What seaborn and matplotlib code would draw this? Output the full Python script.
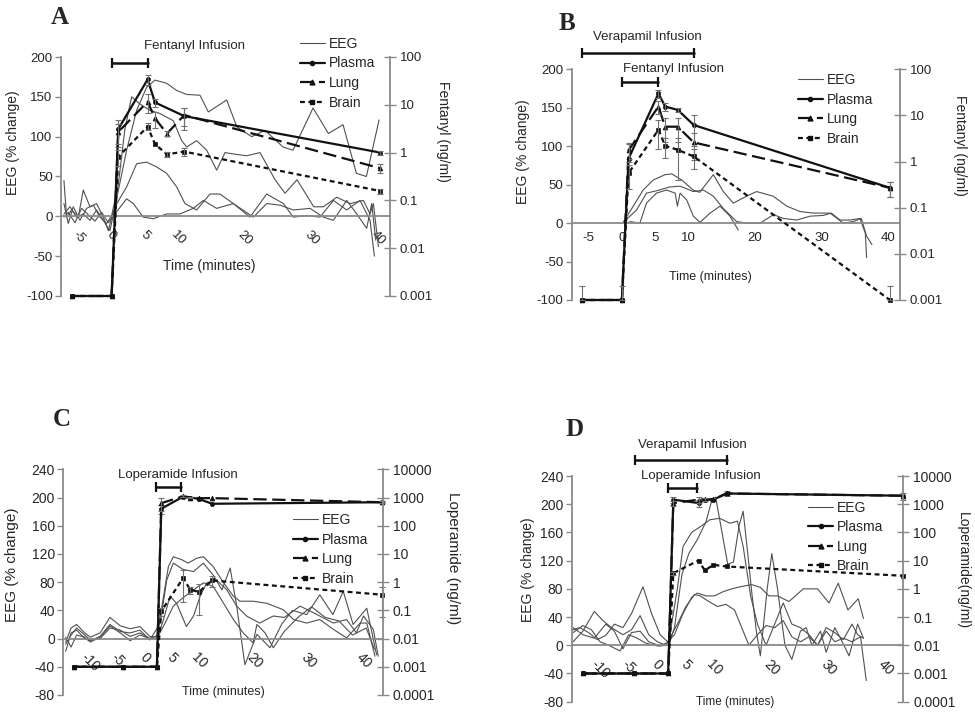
import numpy as np
import pandas as pd
import matplotlib
matplotlib.use("Agg")
import matplotlib.pyplot as plt
import matplotlib.transforms as mtransforms
from matplotlib.lines import Line2D
from matplotlib.ticker import FixedLocator, MultipleLocator, FuncFormatter
import seaborn as sns

# ---------------- data ----------------
# tissue / plasma concentrations (ng/ml) at sampling times (min)
a_time = [-6, 0, 1, 5.4, 6.5, 8.3, 10.9, 40.3]
a_plasma = [0.001, 0.001, 3.1, 34, 11.2, np.nan, 5.8, 1.0]
a_lung = [0.001, 0.001, 2.7, 11.6, 5.2, 2.5, 6.1, 0.47]
a_brain = [0.001, 0.001, 0.82, 3.5, 1.5, 0.92, 1.05, 0.157]
a_plasma_err = [0, 0, 1.8, 8, 2, 0, 2.9, 0.1]
a_lung_err = [0, 0, 1.2, 5, 2, 0.3, 2.5, 0.1]
a_brain_err = [0, 0, 0.3, 0.6, 0, 0.1, 0.2, 0.02]

b_time = [-6, 0, 1, 5.5, 6.5, 8.4, 10.8, 40.3]
b_plasma = [0.001, 0.001, 1.16, 30, 15.6, 13.2, 6.2, 0.27]
b_lung = [0.001, 0.001, 1.76, 15.6, 5.7, 5.7, 2.6, 0.27]
b_brain = [0.001, 0.001, 0.56, 4.9, 2.2, 1.8, 1.29, 0.001]
b_plasma_err = [0, 0, 1.2, 6, 3, 1.5, 4, 0.1]
b_lung_err = [0, 0, 0.8, 5, 3, 3, 1.5, 0.1]
b_brain_err = [0.001, 0.001, 0.3, 3, 1, 1.4, 0.6, 0.001]

c_time = [-13, -4, 2.2, 3.0, 7.0, 8.3, 9.9, 12.3, 43.3]
c_plasma = [0.001, 0.001, 0.001, 400, 1075, 1000, 890, 600, 680]
c_lung = [0.001, 0.001, 0.001, 630, 1110, 1000, 950, 950, 680]
c_brain = [0.001, 0.001, 0.001, 0.093, 1.4, 0.54, 0.45, 1.15, 0.36]
c_plasma_err = [0, 0, 0, 150, 100, 0, 0, 0, 60]
c_lung_err = [0, 0, 0, 300, 100, 50, 0, 0, 60]
c_brain_err = [0, 0, 0, 0.03, 1.2, 0.15, 0.38, 0.5, 0.3]

d_time = [-12.9, -4.1, 1.9, 2.8, 7.2, 8.3, 9.8, 12.1, 43.0]
d_plasma = [0.001, 0.001, 0.001, 1450, 1100, 1450, 1450, 2400, 2000]
d_lung = [0.001, 0.001, 0.001, 1100, 1450, 1500, 1500, 2400, 2000]
d_brain = [0.001, 0.001, 0.001, 3.6, 10.1, 4.5, 7.1, 6.2, 2.9]
d_plasma_err = [0, 0, 0, 300, 300, 0, 200, 500, 600]
d_lung_err = [0, 0, 0, 200, 300, 200, 0, 0, 0]
d_brain_err = [0, 0, 0, 0.5, 0, 0, 0, 0, 0]

# EEG traces (% change), (time, value) per animal
eeg_a1 = [(-7.15, 45), (-6.75, -1), (-6, 8), (-5, -1), (-4.25, 33), (-3.25, 12), (-2.25, 16), (-1.25, -1),
          (-0.5, -18), (0.15, 3), (0.5, 12), (2.25, 83), (3.75, 133), (5.25, 162), (6.5, 171), (8.25, 167),
          (9.75, 158), (11.25, 153), (13.25, 152), (14.5, 131), (17.25, 146), (18.8, 112), (21, 100),
          (23, 108), (25.7, 87), (27.2, 83), (30.2, 136), (32.5, 104), (34.7, 115), (36.7, 54), (38.2, 50),
          (40.1, 121)]
eeg_a2 = [(-7.15, 16), (-6.5, -9), (-5.75, 12), (-4.75, -5), (-3.75, 10), (-2.75, 14), (-1.75, -1), (-0.75, -9),
          (0, 1), (1, 40), (2, 110), (3, 150), (4.25, 141), (5.75, 133), (7.25, 129), (9.25, 120), (10.5, 95),
          (11.25, 87), (12.75, 95), (14.25, 83), (15.75, 58), (17, 80), (18.5, 78), (20.25, 76), (22.25, 80),
          (24.5, 46), (26, 29), (27.8, 46), (30.3, 12), (31.75, 12), (33.75, 24), (35.75, 16), (37.75, 20),
          (38.75, 3), (39.25, 16), (40, -38)]
eeg_a3 = [(-7.15, 3), (-6.25, 12), (-5.25, -1), (-4.25, 3), (-3.25, -5), (-2.25, 8), (-1.25, -5), (-0.25, -18),
          (0.5, 12), (2.25, 37), (3.75, 66), (5.25, 68), (6.75, 62), (8.25, 54), (9.75, 37), (11, 16),
          (12.75, 8), (14.75, 28), (16.25, 28), (18.25, 16), (20.75, -1), (23.25, 28), (25.75, 16),
          (27.25, -1), (29.25, 1), (31.25, -1), (33.25, 20), (35.25, 8), (37.25, 20), (38.75, -5), (39.4, -50)]
eeg_a4 = [(-7.15, -1), (-6.5, 5), (-5.5, -8), (-4.5, 10), (-3.5, 2), (-2.5, -6), (-1.5, 5), (-0.5, -8),
          (0.5, 3), (2.25, 22), (3.25, 16), (4.75, -1), (6.25, -3), (8.25, 3), (10.25, 3), (12.25, 10),
          (13.75, 20), (15.75, 10), (18.25, 16), (21.25, -1), (23.25, 16), (25.25, 14), (27.25, 8),
          (29.75, 10), (31.75, -1), (33.25, -5), (35.25, 20), (36.75, 3), (38.25, -15), (39, 16), (39.6, -30)]

eeg_b1 = [(0.2, 1), (1.7, 22), (3.2, 43), (4.7, 56), (6.5, 63), (7.5, 64), (9, 56), (10.7, 43), (11.7, 40),
          (13.75, 63), (15.25, 41), (16.75, 26), (18.75, 35), (20.25, 41), (22.75, 35), (24.8, 22), (26.8, 15),
          (28.8, 13), (31.3, 13), (33.3, 0), (34.8, 2), (36, 6), (36.8, -17), (37.6, -28)]
eeg_b2 = [(0.2, 1), (2.2, 17), (3.7, 39), (5.2, 42), (7.2, 47), (8.75, 48), (10.75, 41), (12.25, 43),
          (13.75, 35), (15.25, 19), (17.25, 2), (18.75, 0), (20.8, 0), (22.8, 11), (24.3, 6), (26.3, 4),
          (28.3, 9), (30.3, 10), (31.5, 13), (32.8, 4), (34.3, 4), (35.8, 6), (36.6, -13), (36.8, -45)]
eeg_b3 = [(1.2, 2), (2.7, 0), (3.7, 26), (5.2, 39), (6.7, 43), (8, 39), (8.35, 22), (8.75, 39), (9.75, 30),
          (10.75, 9), (11.75, 1), (13.25, 13), (14.75, 22), (16.25, 9), (17.5, -9)]

eeg_c1 = [(-14.5, -5), (-13.5, 15), (-12.5, 20), (-11, 8), (-10, 2), (-8.2, 8), (-6.4, 30), (-4.5, 18),
          (-2.7, 14), (-0.9, 17), (0.9, 3), (2.2, 2), (3, 40), (4.3, 102), (5.2, 116), (6.7, 112), (7.9, 107),
          (9.5, 114), (10.7, 116), (12.5, 102), (14.4, 79), (16.2, 60), (17.4, 53), (19.8, 53), (22.3, 50),
          (25.3, 41), (27.2, 27), (29.6, 22), (32, 27), (34.5, 13), (36.9, 1), (39.4, 22), (40.6, 22),
          (42.1, -25)]
eeg_c2 = [(-14.5, -18), (-13.5, 8), (-12.5, 12), (-11, 0), (-10, -3), (-8.2, 3), (-6.4, 20), (-4.5, 10),
          (-2.7, 8), (-0.9, 12), (0.9, -2), (2.8, 22), (4, 83), (5.2, 107), (7, 98), (8.9, 95), (10.7, 107),
          (12.5, 90), (14.1, 69), (15.6, 100), (16.8, 46), (18.3, -37), (20.5, 6), (22.9, -13), (25, 20),
          (27, 40), (29.6, 34), (32, 62), (34.4, 34), (36.3, 67), (38.1, 20), (40.6, 43), (42.4, -23)]
eeg_c3 = [(-14.5, -8), (-13.5, 5), (-12.5, 15), (-11, 5), (-10, -2), (-8.2, 0), (-6.4, 15), (-4.5, 12),
          (-2.7, 3), (-0.9, 8), (0.9, 0), (2.5, 5), (3.4, 27), (4.6, 60), (5.8, 50), (7.6, 17), (8.9, 32),
          (10.1, 60), (11.3, 79), (13.1, 83), (15, 69), (16.8, 46), (18.6, 32), (21, 22), (23.5, 32),
          (25.5, 30), (28.4, 46), (30.5, 38), (32.5, 30), (34.5, 22), (36.9, 27), (38.7, 8), (40, 32),
          (41.8, 13), (42.7, -25)]
eeg_c4 = [(-14.5, 2), (-13.5, -12), (-12.5, 5), (-11, 2), (-10, -5), (-8.2, 2), (-6.4, 18), (-4.5, 8),
          (-2.7, -3), (-0.9, 5), (0.9, 0), (2.2, 0), (3.7, 22), (5.2, 46), (7, 58), (8.9, 69), (10.7, 79),
          (12.5, 74), (14.4, 50), (16.2, 27), (18, 8), (19.8, -6), (20.5, 20), (22, 8), (23.5, -13),
          (25.5, 10), (28, 30), (30.5, 45), (33, 30), (35.5, 25), (38, 5), (40.5, 15), (42, -15)]

eeg_d1 = [(-14.7, 22), (-13.5, 25), (-12, 18), (-10.5, 8), (-9, 14), (-7.5, 30), (-6, 25), (-4.5, 45),
          (-2.5, 83), (-1, 45), (0.5, 15), (1.8, 5), (3, 15), (4.5, 45), (6, 68), (7, 74), (8.5, 70),
          (10, 70), (11.5, 76), (13, 80), (14.5, 83), (16.5, 86), (18, 82), (19.5, 70), (21, 70), (23, 62),
          (25.5, 80), (28, 80), (30, 60), (31.6, 88), (33.3, 50), (35.1, 66), (36, 38)]
eeg_d2 = [(-14.7, 5), (-13, 20), (-11, 48), (-9.5, 35), (-8, 25), (-6, 15), (-4.5, 22), (-3, 42), (-1.5, 15),
          (0, 5), (1.5, 0), (3.5, 30), (5, 55), (6.5, 72), (7.5, 70), (9, 62), (10.5, 55), (12, 58),
          (13.5, 50), (15, 20), (16, 0), (17.5, 15), (19, 28), (20.5, 25), (22, 35), (23.5, 12), (25, 5),
          (26.5, 12), (28, 0), (29.5, 25), (31, 18), (32.5, 8), (34, 30), (35, 15), (36, 10)]
eeg_d3 = [(-14.7, 25), (-13, 15), (-11, 10), (-9, 30), (-7.5, 20), (-6, -5), (-4.5, 18), (-3, 20), (-1.5, 5),
          (0.5, -1), (2, 5), (3.5, 80), (4.5, 140), (6, 160), (7.5, 168), (9.2, 178), (10.9, 180),
          (12.7, 173), (14, 176), (15, 140), (16.3, 70), (17.5, 30), (19, 0), (20.5, 30), (22, 60),
          (23.5, 30), (25, 25), (26.5, 15), (28, 0), (29.5, 20), (31, 5), (32.5, 10), (34, 5), (35.5, 12),
          (36.5, -50)]
eeg_d4 = [(-14.7, 18), (-13, 28), (-11.5, 22), (-10, 5), (-8.5, 0), (-6.5, -8), (-5, 15), (-3.5, 10),
          (-2, 3), (0, -1), (2, 0), (3, 25), (4.3, 100), (5.5, 130), (7, 150), (8.5, 175), (9.5, 205),
          (10.2, 210), (11.3, 160), (12.3, 115), (13.3, 118), (14.3, 170), (15, 190), (15.8, 130),
          (16.5, 75), (17.3, 20), (18, -15), (19.2, 80), (20, 130), (21, 80), (22.3, 0), (23.5, -20),
          (25, 20), (26, 25), (27, 0), (28.5, 20), (29.5, -10), (31, 25), (32, 10), (33.5, -15), (35, 30),
          (36, 10)]

# infusion periods (label, start, end) in min
a_infusions = [("Fentanyl Infusion", 0, 5.5)]
b_infusions = [("Verapamil Infusion", -6, 10.8), ("Fentanyl Infusion", 0, 5.5)]
c_infusions = [("Loperamide Infusion", 2.0, 6.6)]
d_infusions = [("Verapamil Infusion", -3.9, 12.1), ("Loperamide Infusion", 1.8, 6.9)]

# ---------------- style ----------------
sns.set_theme(style="white")
plt.rcParams["font.family"] = ["Liberation Sans", "DejaVu Sans"]
plt.rcParams["axes.unicode_minus"] = False

EEG_COLOR = "#505050"
GRAY = "#8a8a8a"
W, H = 975, 715
fig = plt.figure(figsize=(W / 100, H / 100), dpi=100)

LINE_STYLES = {
    "Plasma": dict(marker="o", ms=3, linestyle="-"),
    "Lung": dict(marker="^", ms=3.5, linestyle=(0, (6, 2.5))),
    "Brain": dict(marker="s", ms=3, linestyle=(0, (2.2, 1.6))),
}


def draw_panel(cfg, eeg_traces, times, series, infusions):
    left, top, right, bottom = cfg["rect"]
    ax = fig.add_axes([left / W, 1 - bottom / H, (right - left) / W, (bottom - top) / H])
    ax.set_facecolor("none")
    ax2 = ax.twinx()

    # EEG traces
    rows = [(t, v, i) for i, tr in enumerate(eeg_traces) for t, v in tr]
    eeg = pd.DataFrame(rows, columns=["t", "eeg", "trace"])
    sns.lineplot(data=eeg, x="t", y="eeg", units="trace", estimator=None, sort=False,
                 color=EEG_COLOR, lw=0.8, ax=ax)

    # concentrations on log axis
    ax2.set_yscale("log")
    for name, vals, err in series:
        c = np.asarray(vals, float)
        e = np.asarray(err, float)
        d = pd.DataFrame({"t": times, "c": c}).dropna()
        sns.lineplot(data=d, x="t", y="c", ax=ax2, color="#111111", lw=1.6, mec="#111111", mew=0.5,
                     estimator=None, sort=False, errorbar=None, clip_on=False, **LINE_STYLES[name])
        ok = ~np.isnan(c) & (e > 0)
        lower = np.where(e[ok] < c[ok], e[ok], 0)
        ax2.errorbar(np.asarray(times)[ok], c[ok], yerr=[lower, e[ok]], fmt="none", ecolor="#707070",
                     elinewidth=0.8, capsize=2.5, capthick=0.8, clip_on=False)

    # left axis
    ax.set_xlim(cfg["xlim"])
    ax.set_ylim(cfg["ylim_l"])
    ax.set_yticks(cfg["yticks"])
    ax.set_xticks(cfg["xticks"])
    ax.set_xticklabels([str(t) for t in cfg["xticks"]])
    ax.xaxis.set_minor_locator(MultipleLocator(cfg["minor"]))
    ax.spines["bottom"].set_position(("data", 0))
    for s in ["top", "right"]:
        ax.spines[s].set_visible(False)
    for s in ["left", "bottom"]:
        ax.spines[s].set_color(GRAY)
        ax.spines[s].set_linewidth(1.3)
    ax.tick_params(axis="x", which="major", direction="inout", length=7, width=1, color=GRAY,
                   labelsize=cfg["fs_tick"], pad=cfg["xpad"], labelrotation=cfg["rot"])
    ax.tick_params(axis="x", which="minor", direction="inout", length=5, width=1, color=GRAY)
    ax.tick_params(axis="y", direction="out", length=4, width=1, color=GRAY, labelsize=cfg["fs_tick"], pad=2)
    for lab in ax.get_xticklabels():
        lab.set_horizontalalignment("center")
    ax.set_ylabel("EEG (% change)", fontsize=cfg["fs_ylab"], va="center")
    ax.yaxis.set_label_coords(*cfg["ylab_xy"])
    ax.set_xlabel("Time (minutes)", fontsize=cfg["fs_xlab"], va="center")
    ax.xaxis.set_label_coords(*cfg["xlab_xy"])

    # right axis
    ax2.set_ylim(cfg["ylim_r"])
    lo, hi = np.log10(cfg["ylim_r"])
    ax2.yaxis.set_major_locator(FixedLocator(10.0 ** np.arange(lo, hi + 1)))
    ax2.yaxis.set_minor_locator(FixedLocator([]))
    ax2.yaxis.set_major_formatter(FuncFormatter(lambda v, p: "{:g}".format(v)))
    for s in ["top", "bottom", "left"]:
        ax2.spines[s].set_visible(False)
    ax2.spines["right"].set_color(GRAY)
    ax2.spines["right"].set_linewidth(1.3)
    ax2.tick_params(axis="y", direction="inout", length=8, width=1, color=GRAY,
                    labelsize=cfg["fs_rtick"], pad=3)
    ax2.set_ylabel(cfg["rlabel"], rotation=270, fontsize=cfg["fs_ylab"], va="center")
    ax2.yaxis.set_label_coords(*cfg["rlab_xy"])

    # infusion bars
    trans = mtransforms.blended_transform_factory(ax.transData, ax.transAxes)
    for (label, t0, t1), (bar_y, text_x, text_y) in zip(infusions, cfg["inf_pos"]):
        ax.plot([t0, t1], [bar_y, bar_y], transform=trans, color="#111111", lw=1.8, marker="|",
                ms=7, mew=1.6, clip_on=False)
        ax.text(text_x, text_y, label, transform=trans, ha="center", va="center", fontsize=9.5)

    # legend
    handles = [
        Line2D([], [], color=EEG_COLOR, lw=0.8, label="EEG"),
        Line2D([], [], color="#111111", lw=1.6, marker="o", ms=3, label="Plasma"),
        Line2D([], [], color="#111111", lw=1.6, marker="^", ms=3.5, linestyle=(0, (6, 2.5)), label="Lung"),
        Line2D([], [], color="#111111", lw=1.6, marker="s", ms=3, linestyle=(0, (2.2, 1.6)), label="Brain"),
    ]
    ax2.legend(handles=handles, loc="upper left", bbox_to_anchor=cfg["leg_xy"], frameon=False,
               fontsize=cfg["fs_leg"], handlelength=1.8, handletextpad=0.3, labelspacing=0.4,
               borderpad=0, borderaxespad=0, numpoints=1)

    fig.text(cfg["letter"][0] / W, 1 - cfg["letter"][1] / H, cfg["name"], family="Liberation Serif",
             weight="bold", fontsize=18, ha="center", va="center")


panel_a = dict(name="A", rect=(61, 57, 390, 296), xlim=(-7.59, 41.74), xticks=[-5, 0, 5, 10, 20, 30, 40],
               minor=1.25, rot=-45, xpad=5, ylim_l=(-100, 200), yticks=np.arange(-100, 201, 50),
               ylim_r=(1e-3, 1e2), rlabel="Fentanyl (ng/ml)", fs_tick=9.5, fs_rtick=9.5, fs_ylab=10,
               fs_xlab=10, fs_leg=10, ylab_xy=(-0.146, 0.642), rlab_xy=(1.162, 0.687), xlab_xy=(0.45, 0.126),
               leg_xy=(0.726, 1.084), inf_pos=[(0.975, 12.4, 1.046)], letter=(60, 17))
panel_b = dict(name="B", rect=(571.7, 69.3, 900, 300), xlim=(-7.55, 41.82), xticks=[-5, 0, 5, 10, 20, 30, 40],
               minor=1.25, rot=0, xpad=3, ylim_l=(-100, 200), yticks=np.arange(-100, 201, 50),
               ylim_r=(1e-3, 1e2), rlabel="Fentanyl (ng/ml)", fs_tick=9.5, fs_rtick=9.5, fs_ylab=10,
               fs_xlab=9, fs_leg=10, ylab_xy=(-0.147, 0.643), rlab_xy=(1.183, 0.668), xlab_xy=(0.421, 0.1),
               leg_xy=(0.689, 0.984), inf_pos=[(1.072, 3.8, 1.14), (0.944, 7.7, 1.0)], letter=(567, 24))
panel_c = dict(name="C", rect=(63.3, 469.3, 383, 695), xlim=(-14.93, 43.57),
               xticks=[-10, -5, 0, 5, 10, 20, 30, 40], minor=2, rot=-45, xpad=5, ylim_l=(-80, 240),
               yticks=np.arange(-80, 241, 40), ylim_r=(1e-4, 1e4), rlabel="Loperamide (ng/ml)",
               fs_tick=10, fs_rtick=10, fs_ylab=11, fs_xlab=9, fs_leg=10,
               ylab_xy=(-0.161, 0.576), rlab_xy=(1.22, 0.606), xlab_xy=(0.5, 0.013),
               leg_xy=(0.718, 0.806), inf_pos=[(0.923, 6.06, 0.975)], letter=(62, 419))
panel_d = dict(name="D", rect=(571.7, 476, 903.3, 701.7), xlim=(-14.95, 42.97),
               xticks=[-10, -5, 0, 5, 10, 20, 30, 40], minor=2, rot=-45, xpad=5, ylim_l=(-80, 240),
               yticks=np.arange(-80, 241, 40), ylim_r=(1e-4, 1e4), rlabel="Loperamide(ng/ml)",
               fs_tick=10, fs_rtick=10, fs_ylab=10, fs_xlab=8.5, fs_leg=10,
               ylab_xy=(-0.131, 0.583), rlab_xy=(1.181, 0.583), xlab_xy=(0.492, 0.0),
               leg_xy=(0.713, 0.891), inf_pos=[(1.07, 6.2, 1.137), (0.945, 7.6, 1.0)], letter=(575, 429))

draw_panel(panel_a, [eeg_a1, eeg_a2, eeg_a3, eeg_a4], a_time,
           [("Plasma", a_plasma, a_plasma_err), ("Lung", a_lung, a_lung_err), ("Brain", a_brain, a_brain_err)],
           a_infusions)
draw_panel(panel_b, [eeg_b1, eeg_b2, eeg_b3], b_time,
           [("Plasma", b_plasma, b_plasma_err), ("Lung", b_lung, b_lung_err), ("Brain", b_brain, b_brain_err)],
           b_infusions)
draw_panel(panel_c, [eeg_c1, eeg_c2, eeg_c3, eeg_c4], c_time,
           [("Plasma", c_plasma, c_plasma_err), ("Lung", c_lung, c_lung_err), ("Brain", c_brain, c_brain_err)],
           c_infusions)
draw_panel(panel_d, [eeg_d1, eeg_d2, eeg_d3, eeg_d4], d_time,
           [("Plasma", d_plasma, d_plasma_err), ("Lung", d_lung, d_lung_err), ("Brain", d_brain, d_brain_err)],
           d_infusions)

fig.savefig("out.png", dpi=100)
